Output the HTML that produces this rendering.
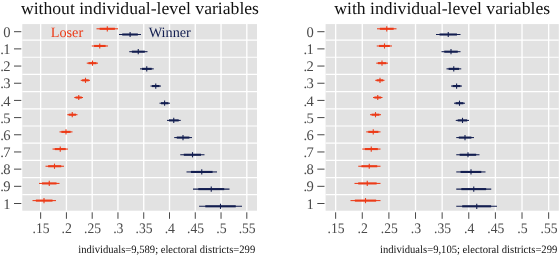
<!DOCTYPE html>
<html><head><meta charset="utf-8"><title>chart</title>
<style>html,body{margin:0;padding:0;background:#fff;overflow:hidden}svg{display:block;will-change:transform}text{font-family:"Liberation Serif",serif;text-rendering:geometricPrecision}</style></head><body>
<svg width="560" height="256" viewBox="0 0 560 256">
<rect x="0" y="0" width="560" height="256" fill="#ffffff"/>
<rect x="22.3" y="24.1" width="234.70" height="186.60" fill="#e2e2e2"/>
<line x1="40.65" x2="40.65" y1="24.1" y2="210.7" stroke="#fff" stroke-width="1.35"/>
<line x1="66.42" x2="66.42" y1="24.1" y2="210.7" stroke="#fff" stroke-width="1.35"/>
<line x1="92.19" x2="92.19" y1="24.1" y2="210.7" stroke="#fff" stroke-width="1.35"/>
<line x1="117.96" x2="117.96" y1="24.1" y2="210.7" stroke="#fff" stroke-width="1.35"/>
<line x1="143.73" x2="143.73" y1="24.1" y2="210.7" stroke="#fff" stroke-width="1.35"/>
<line x1="169.50" x2="169.50" y1="24.1" y2="210.7" stroke="#fff" stroke-width="1.35"/>
<line x1="195.27" x2="195.27" y1="24.1" y2="210.7" stroke="#fff" stroke-width="1.35"/>
<line x1="221.04" x2="221.04" y1="24.1" y2="210.7" stroke="#fff" stroke-width="1.35"/>
<line x1="246.81" x2="246.81" y1="24.1" y2="210.7" stroke="#fff" stroke-width="1.35"/>
<line x1="22.3" x2="257.0" y1="40.09" y2="40.09" stroke="#fff" stroke-width="1.2"/>
<line x1="22.3" x2="257.0" y1="57.27" y2="57.27" stroke="#fff" stroke-width="1.2"/>
<line x1="22.3" x2="257.0" y1="74.45" y2="74.45" stroke="#fff" stroke-width="1.2"/>
<line x1="22.3" x2="257.0" y1="91.63" y2="91.63" stroke="#fff" stroke-width="1.2"/>
<line x1="22.3" x2="257.0" y1="108.81" y2="108.81" stroke="#fff" stroke-width="1.2"/>
<line x1="22.3" x2="257.0" y1="125.99" y2="125.99" stroke="#fff" stroke-width="1.2"/>
<line x1="22.3" x2="257.0" y1="143.17" y2="143.17" stroke="#fff" stroke-width="1.2"/>
<line x1="22.3" x2="257.0" y1="160.35" y2="160.35" stroke="#fff" stroke-width="1.2"/>
<line x1="22.3" x2="257.0" y1="177.53" y2="177.53" stroke="#fff" stroke-width="1.2"/>
<line x1="22.3" x2="257.0" y1="194.71" y2="194.71" stroke="#fff" stroke-width="1.2"/>
<line x1="14.0" x2="21.3" y1="31.70" y2="31.70" stroke="#484848" stroke-width="1"/>
<text x="10.60" y="36.80" font-size="14.6" fill="#4a4a4a" text-anchor="end">0</text>
<line x1="14.0" x2="21.3" y1="48.88" y2="48.88" stroke="#484848" stroke-width="1"/>
<text x="10.60" y="53.98" font-size="14.6" fill="#4a4a4a" text-anchor="end">1</text>
<text x="0.20" y="53.98" font-size="14.6" fill="#4a4a4a">.</text>
<line x1="14.0" x2="21.3" y1="66.06" y2="66.06" stroke="#484848" stroke-width="1"/>
<text x="10.60" y="71.16" font-size="14.6" fill="#4a4a4a" text-anchor="end">2</text>
<text x="0.20" y="71.16" font-size="14.6" fill="#4a4a4a">.</text>
<line x1="14.0" x2="21.3" y1="83.24" y2="83.24" stroke="#484848" stroke-width="1"/>
<text x="10.60" y="88.34" font-size="14.6" fill="#4a4a4a" text-anchor="end">3</text>
<text x="0.20" y="88.34" font-size="14.6" fill="#4a4a4a">.</text>
<line x1="14.0" x2="21.3" y1="100.42" y2="100.42" stroke="#484848" stroke-width="1"/>
<text x="10.60" y="105.52" font-size="14.6" fill="#4a4a4a" text-anchor="end">4</text>
<text x="0.20" y="105.52" font-size="14.6" fill="#4a4a4a">.</text>
<line x1="14.0" x2="21.3" y1="117.60" y2="117.60" stroke="#484848" stroke-width="1"/>
<text x="10.60" y="122.70" font-size="14.6" fill="#4a4a4a" text-anchor="end">5</text>
<text x="0.20" y="122.70" font-size="14.6" fill="#4a4a4a">.</text>
<line x1="14.0" x2="21.3" y1="134.78" y2="134.78" stroke="#484848" stroke-width="1"/>
<text x="10.60" y="139.88" font-size="14.6" fill="#4a4a4a" text-anchor="end">6</text>
<text x="0.20" y="139.88" font-size="14.6" fill="#4a4a4a">.</text>
<line x1="14.0" x2="21.3" y1="151.96" y2="151.96" stroke="#484848" stroke-width="1"/>
<text x="10.60" y="157.06" font-size="14.6" fill="#4a4a4a" text-anchor="end">7</text>
<text x="0.20" y="157.06" font-size="14.6" fill="#4a4a4a">.</text>
<line x1="14.0" x2="21.3" y1="169.14" y2="169.14" stroke="#484848" stroke-width="1"/>
<text x="10.60" y="174.24" font-size="14.6" fill="#4a4a4a" text-anchor="end">8</text>
<text x="0.20" y="174.24" font-size="14.6" fill="#4a4a4a">.</text>
<line x1="14.0" x2="21.3" y1="186.32" y2="186.32" stroke="#484848" stroke-width="1"/>
<text x="10.60" y="191.42" font-size="14.6" fill="#4a4a4a" text-anchor="end">9</text>
<text x="0.20" y="191.42" font-size="14.6" fill="#4a4a4a">.</text>
<line x1="14.0" x2="21.3" y1="203.50" y2="203.50" stroke="#484848" stroke-width="1"/>
<text x="10.60" y="208.60" font-size="14.6" fill="#4a4a4a" text-anchor="end">1</text>
<line x1="40.65" x2="40.65" y1="212.3" y2="218.8" stroke="#484848" stroke-width="1"/>
<text x="32.50" y="233.0" font-size="14.6" fill="#4a4a4a" textLength="17.0" lengthAdjust="spacingAndGlyphs">.15</text>
<line x1="66.42" x2="66.42" y1="212.3" y2="218.8" stroke="#484848" stroke-width="1"/>
<text x="61.59" y="233.0" font-size="14.6" fill="#4a4a4a" textLength="10.35" lengthAdjust="spacingAndGlyphs">.2</text>
<line x1="92.19" x2="92.19" y1="212.3" y2="218.8" stroke="#484848" stroke-width="1"/>
<text x="84.04" y="233.0" font-size="14.6" fill="#4a4a4a" textLength="17.0" lengthAdjust="spacingAndGlyphs">.25</text>
<line x1="117.96" x2="117.96" y1="212.3" y2="218.8" stroke="#484848" stroke-width="1"/>
<text x="113.14" y="233.0" font-size="14.6" fill="#4a4a4a" textLength="10.35" lengthAdjust="spacingAndGlyphs">.3</text>
<line x1="143.73" x2="143.73" y1="212.3" y2="218.8" stroke="#484848" stroke-width="1"/>
<text x="135.58" y="233.0" font-size="14.6" fill="#4a4a4a" textLength="17.0" lengthAdjust="spacingAndGlyphs">.35</text>
<line x1="169.50" x2="169.50" y1="212.3" y2="218.8" stroke="#484848" stroke-width="1"/>
<text x="164.67" y="233.0" font-size="14.6" fill="#4a4a4a" textLength="10.35" lengthAdjust="spacingAndGlyphs">.4</text>
<line x1="195.27" x2="195.27" y1="212.3" y2="218.8" stroke="#484848" stroke-width="1"/>
<text x="187.12" y="233.0" font-size="14.6" fill="#4a4a4a" textLength="17.0" lengthAdjust="spacingAndGlyphs">.45</text>
<line x1="221.04" x2="221.04" y1="212.3" y2="218.8" stroke="#484848" stroke-width="1"/>
<text x="216.21" y="233.0" font-size="14.6" fill="#4a4a4a" textLength="10.35" lengthAdjust="spacingAndGlyphs">.5</text>
<line x1="246.81" x2="246.81" y1="212.3" y2="218.8" stroke="#484848" stroke-width="1"/>
<text x="238.66" y="233.0" font-size="14.6" fill="#4a4a4a" textLength="17.0" lengthAdjust="spacingAndGlyphs">.55</text>
<line x1="96.50" x2="118.00" y1="28.80" y2="28.80" stroke="#ec3b18" stroke-width="1.05"/>
<line x1="99.63" x2="114.90" y1="28.80" y2="28.80" stroke="#ec3b18" stroke-width="2.1"/>
<line x1="107.30" x2="107.30" y1="26.20" y2="31.40" stroke="#ec3b18" stroke-width="1.1"/>
<line x1="119.00" x2="141.00" y1="34.50" y2="34.50" stroke="#131e50" stroke-width="1.05"/>
<line x1="122.22" x2="137.84" y1="34.50" y2="34.50" stroke="#131e50" stroke-width="2.1"/>
<line x1="130.10" x2="130.10" y1="31.90" y2="37.10" stroke="#131e50" stroke-width="1.1"/>
<line x1="91.75" x2="108.00" y1="45.98" y2="45.98" stroke="#ec3b18" stroke-width="1.05"/>
<line x1="94.07" x2="105.61" y1="45.98" y2="45.98" stroke="#ec3b18" stroke-width="2.1"/>
<line x1="99.75" x2="99.75" y1="43.38" y2="48.58" stroke="#ec3b18" stroke-width="1.1"/>
<line x1="129.25" x2="147.50" y1="51.68" y2="51.68" stroke="#131e50" stroke-width="1.05"/>
<line x1="131.86" x2="144.82" y1="51.68" y2="51.68" stroke="#131e50" stroke-width="2.1"/>
<line x1="138.25" x2="138.25" y1="49.08" y2="54.28" stroke="#131e50" stroke-width="1.1"/>
<line x1="86.75" x2="98.00" y1="63.16" y2="63.16" stroke="#ec3b18" stroke-width="1.05"/>
<line x1="88.42" x2="96.41" y1="63.16" y2="63.16" stroke="#ec3b18" stroke-width="2.1"/>
<line x1="92.50" x2="92.50" y1="60.56" y2="65.76" stroke="#ec3b18" stroke-width="1.1"/>
<line x1="140.00" x2="153.75" y1="68.86" y2="68.86" stroke="#131e50" stroke-width="1.05"/>
<line x1="141.96" x2="151.72" y1="68.86" y2="68.86" stroke="#131e50" stroke-width="2.1"/>
<line x1="146.75" x2="146.75" y1="66.26" y2="71.46" stroke="#131e50" stroke-width="1.1"/>
<line x1="80.75" x2="90.00" y1="80.34" y2="80.34" stroke="#ec3b18" stroke-width="1.05"/>
<line x1="82.13" x2="88.69" y1="80.34" y2="80.34" stroke="#ec3b18" stroke-width="2.1"/>
<line x1="85.50" x2="85.50" y1="77.74" y2="82.94" stroke="#ec3b18" stroke-width="1.1"/>
<line x1="150.50" x2="161.00" y1="86.04" y2="86.04" stroke="#131e50" stroke-width="1.05"/>
<line x1="152.02" x2="159.48" y1="86.04" y2="86.04" stroke="#131e50" stroke-width="2.1"/>
<line x1="155.75" x2="155.75" y1="83.44" y2="88.64" stroke="#131e50" stroke-width="1.1"/>
<line x1="74.25" x2="83.00" y1="97.52" y2="97.52" stroke="#ec3b18" stroke-width="1.05"/>
<line x1="75.56" x2="81.77" y1="97.52" y2="97.52" stroke="#ec3b18" stroke-width="2.1"/>
<line x1="78.75" x2="78.75" y1="94.92" y2="100.12" stroke="#ec3b18" stroke-width="1.1"/>
<line x1="159.50" x2="170.00" y1="103.22" y2="103.22" stroke="#131e50" stroke-width="1.05"/>
<line x1="160.98" x2="168.43" y1="103.22" y2="103.22" stroke="#131e50" stroke-width="2.1"/>
<line x1="164.60" x2="164.60" y1="100.62" y2="105.82" stroke="#131e50" stroke-width="1.1"/>
<line x1="67.25" x2="77.50" y1="114.70" y2="114.70" stroke="#ec3b18" stroke-width="1.05"/>
<line x1="68.70" x2="75.98" y1="114.70" y2="114.70" stroke="#ec3b18" stroke-width="2.1"/>
<line x1="72.25" x2="72.25" y1="112.10" y2="117.30" stroke="#ec3b18" stroke-width="1.1"/>
<line x1="167.00" x2="180.75" y1="120.40" y2="120.40" stroke="#131e50" stroke-width="1.05"/>
<line x1="168.96" x2="178.72" y1="120.40" y2="120.40" stroke="#131e50" stroke-width="2.1"/>
<line x1="173.75" x2="173.75" y1="117.80" y2="123.00" stroke="#131e50" stroke-width="1.1"/>
<line x1="59.50" x2="72.50" y1="131.88" y2="131.88" stroke="#ec3b18" stroke-width="1.05"/>
<line x1="61.38" x2="70.61" y1="131.88" y2="131.88" stroke="#ec3b18" stroke-width="2.1"/>
<line x1="66.00" x2="66.00" y1="129.28" y2="134.48" stroke="#ec3b18" stroke-width="1.1"/>
<line x1="174.20" x2="192.00" y1="137.58" y2="137.58" stroke="#131e50" stroke-width="1.05"/>
<line x1="176.75" x2="189.39" y1="137.58" y2="137.58" stroke="#131e50" stroke-width="2.1"/>
<line x1="183.00" x2="183.00" y1="134.98" y2="140.18" stroke="#131e50" stroke-width="1.1"/>
<line x1="52.50" x2="68.00" y1="149.06" y2="149.06" stroke="#ec3b18" stroke-width="1.05"/>
<line x1="54.75" x2="65.75" y1="149.06" y2="149.06" stroke="#ec3b18" stroke-width="2.1"/>
<line x1="60.25" x2="60.25" y1="146.46" y2="151.66" stroke="#ec3b18" stroke-width="1.1"/>
<line x1="180.25" x2="204.50" y1="154.76" y2="154.76" stroke="#131e50" stroke-width="1.05"/>
<line x1="183.80" x2="201.02" y1="154.76" y2="154.76" stroke="#131e50" stroke-width="2.1"/>
<line x1="192.50" x2="192.50" y1="152.16" y2="157.36" stroke="#131e50" stroke-width="1.1"/>
<line x1="45.50" x2="64.00" y1="166.24" y2="166.24" stroke="#ec3b18" stroke-width="1.05"/>
<line x1="48.11" x2="61.24" y1="166.24" y2="166.24" stroke="#ec3b18" stroke-width="2.1"/>
<line x1="54.50" x2="54.50" y1="163.64" y2="168.84" stroke="#ec3b18" stroke-width="1.1"/>
<line x1="186.50" x2="217.00" y1="171.94" y2="171.94" stroke="#131e50" stroke-width="1.05"/>
<line x1="190.92" x2="212.58" y1="171.94" y2="171.94" stroke="#131e50" stroke-width="2.1"/>
<line x1="201.75" x2="201.75" y1="169.34" y2="174.54" stroke="#131e50" stroke-width="1.1"/>
<line x1="39.00" x2="59.50" y1="183.42" y2="183.42" stroke="#ec3b18" stroke-width="1.05"/>
<line x1="41.97" x2="56.53" y1="183.42" y2="183.42" stroke="#ec3b18" stroke-width="2.1"/>
<line x1="49.25" x2="49.25" y1="180.82" y2="186.02" stroke="#ec3b18" stroke-width="1.1"/>
<line x1="193.00" x2="229.50" y1="189.12" y2="189.12" stroke="#131e50" stroke-width="1.05"/>
<line x1="198.29" x2="224.21" y1="189.12" y2="189.12" stroke="#131e50" stroke-width="2.1"/>
<line x1="211.25" x2="211.25" y1="186.52" y2="191.72" stroke="#131e50" stroke-width="1.1"/>
<line x1="32.50" x2="56.00" y1="200.60" y2="200.60" stroke="#ec3b18" stroke-width="1.05"/>
<line x1="35.84" x2="52.52" y1="200.60" y2="200.60" stroke="#ec3b18" stroke-width="2.1"/>
<line x1="44.00" x2="44.00" y1="198.00" y2="203.20" stroke="#ec3b18" stroke-width="1.1"/>
<line x1="199.10" x2="242.00" y1="206.30" y2="206.30" stroke="#131e50" stroke-width="1.05"/>
<line x1="205.31" x2="235.76" y1="206.30" y2="206.30" stroke="#131e50" stroke-width="2.1"/>
<line x1="220.50" x2="220.50" y1="203.70" y2="208.90" stroke="#131e50" stroke-width="1.1"/>
<text x="20.9" y="14.4" font-size="17.3" fill="#111" textLength="238.1" lengthAdjust="spacingAndGlyphs">without individual-level variables</text>
<text x="78.3" y="252.7" font-size="11.2" fill="#111" textLength="176.9" lengthAdjust="spacingAndGlyphs">individuals=9,589; electoral districts=299</text>
<text x="50.7" y="37.0" font-size="14.25" fill="#ec3b18">Loser</text>
<text x="148.7" y="37.0" font-size="14.25" fill="#131e50">Winner</text>
<rect x="325.6" y="24.1" width="233.20" height="186.60" fill="#e2e2e2"/>
<line x1="335.65" x2="335.65" y1="24.1" y2="210.7" stroke="#fff" stroke-width="1.35"/>
<line x1="362.27" x2="362.27" y1="24.1" y2="210.7" stroke="#fff" stroke-width="1.35"/>
<line x1="388.90" x2="388.90" y1="24.1" y2="210.7" stroke="#fff" stroke-width="1.35"/>
<line x1="415.52" x2="415.52" y1="24.1" y2="210.7" stroke="#fff" stroke-width="1.35"/>
<line x1="442.15" x2="442.15" y1="24.1" y2="210.7" stroke="#fff" stroke-width="1.35"/>
<line x1="468.77" x2="468.77" y1="24.1" y2="210.7" stroke="#fff" stroke-width="1.35"/>
<line x1="495.40" x2="495.40" y1="24.1" y2="210.7" stroke="#fff" stroke-width="1.35"/>
<line x1="522.02" x2="522.02" y1="24.1" y2="210.7" stroke="#fff" stroke-width="1.35"/>
<line x1="548.65" x2="548.65" y1="24.1" y2="210.7" stroke="#fff" stroke-width="1.35"/>
<line x1="325.6" x2="558.8" y1="40.09" y2="40.09" stroke="#fff" stroke-width="1.2"/>
<line x1="325.6" x2="558.8" y1="57.27" y2="57.27" stroke="#fff" stroke-width="1.2"/>
<line x1="325.6" x2="558.8" y1="74.45" y2="74.45" stroke="#fff" stroke-width="1.2"/>
<line x1="325.6" x2="558.8" y1="91.63" y2="91.63" stroke="#fff" stroke-width="1.2"/>
<line x1="325.6" x2="558.8" y1="108.81" y2="108.81" stroke="#fff" stroke-width="1.2"/>
<line x1="325.6" x2="558.8" y1="125.99" y2="125.99" stroke="#fff" stroke-width="1.2"/>
<line x1="325.6" x2="558.8" y1="143.17" y2="143.17" stroke="#fff" stroke-width="1.2"/>
<line x1="325.6" x2="558.8" y1="160.35" y2="160.35" stroke="#fff" stroke-width="1.2"/>
<line x1="325.6" x2="558.8" y1="177.53" y2="177.53" stroke="#fff" stroke-width="1.2"/>
<line x1="325.6" x2="558.8" y1="194.71" y2="194.71" stroke="#fff" stroke-width="1.2"/>
<line x1="317.3" x2="324.5" y1="31.70" y2="31.70" stroke="#484848" stroke-width="1"/>
<text x="313.90" y="36.80" font-size="14.6" fill="#4a4a4a" text-anchor="end">0</text>
<line x1="317.3" x2="324.5" y1="48.88" y2="48.88" stroke="#484848" stroke-width="1"/>
<text x="313.90" y="53.98" font-size="14.6" fill="#4a4a4a" text-anchor="end">1</text>
<text x="303.50" y="53.98" font-size="14.6" fill="#4a4a4a">.</text>
<line x1="317.3" x2="324.5" y1="66.06" y2="66.06" stroke="#484848" stroke-width="1"/>
<text x="313.90" y="71.16" font-size="14.6" fill="#4a4a4a" text-anchor="end">2</text>
<text x="303.50" y="71.16" font-size="14.6" fill="#4a4a4a">.</text>
<line x1="317.3" x2="324.5" y1="83.24" y2="83.24" stroke="#484848" stroke-width="1"/>
<text x="313.90" y="88.34" font-size="14.6" fill="#4a4a4a" text-anchor="end">3</text>
<text x="303.50" y="88.34" font-size="14.6" fill="#4a4a4a">.</text>
<line x1="317.3" x2="324.5" y1="100.42" y2="100.42" stroke="#484848" stroke-width="1"/>
<text x="313.90" y="105.52" font-size="14.6" fill="#4a4a4a" text-anchor="end">4</text>
<text x="303.50" y="105.52" font-size="14.6" fill="#4a4a4a">.</text>
<line x1="317.3" x2="324.5" y1="117.60" y2="117.60" stroke="#484848" stroke-width="1"/>
<text x="313.90" y="122.70" font-size="14.6" fill="#4a4a4a" text-anchor="end">5</text>
<text x="303.50" y="122.70" font-size="14.6" fill="#4a4a4a">.</text>
<line x1="317.3" x2="324.5" y1="134.78" y2="134.78" stroke="#484848" stroke-width="1"/>
<text x="313.90" y="139.88" font-size="14.6" fill="#4a4a4a" text-anchor="end">6</text>
<text x="303.50" y="139.88" font-size="14.6" fill="#4a4a4a">.</text>
<line x1="317.3" x2="324.5" y1="151.96" y2="151.96" stroke="#484848" stroke-width="1"/>
<text x="313.90" y="157.06" font-size="14.6" fill="#4a4a4a" text-anchor="end">7</text>
<text x="303.50" y="157.06" font-size="14.6" fill="#4a4a4a">.</text>
<line x1="317.3" x2="324.5" y1="169.14" y2="169.14" stroke="#484848" stroke-width="1"/>
<text x="313.90" y="174.24" font-size="14.6" fill="#4a4a4a" text-anchor="end">8</text>
<text x="303.50" y="174.24" font-size="14.6" fill="#4a4a4a">.</text>
<line x1="317.3" x2="324.5" y1="186.32" y2="186.32" stroke="#484848" stroke-width="1"/>
<text x="313.90" y="191.42" font-size="14.6" fill="#4a4a4a" text-anchor="end">9</text>
<text x="303.50" y="191.42" font-size="14.6" fill="#4a4a4a">.</text>
<line x1="317.3" x2="324.5" y1="203.50" y2="203.50" stroke="#484848" stroke-width="1"/>
<text x="313.90" y="208.60" font-size="14.6" fill="#4a4a4a" text-anchor="end">1</text>
<line x1="335.65" x2="335.65" y1="212.3" y2="218.8" stroke="#484848" stroke-width="1"/>
<text x="327.50" y="233.0" font-size="14.6" fill="#4a4a4a" textLength="17.0" lengthAdjust="spacingAndGlyphs">.15</text>
<line x1="362.27" x2="362.27" y1="212.3" y2="218.8" stroke="#484848" stroke-width="1"/>
<text x="357.45" y="233.0" font-size="14.6" fill="#4a4a4a" textLength="10.35" lengthAdjust="spacingAndGlyphs">.2</text>
<line x1="388.90" x2="388.90" y1="212.3" y2="218.8" stroke="#484848" stroke-width="1"/>
<text x="380.75" y="233.0" font-size="14.6" fill="#4a4a4a" textLength="17.0" lengthAdjust="spacingAndGlyphs">.25</text>
<line x1="415.52" x2="415.52" y1="212.3" y2="218.8" stroke="#484848" stroke-width="1"/>
<text x="410.70" y="233.0" font-size="14.6" fill="#4a4a4a" textLength="10.35" lengthAdjust="spacingAndGlyphs">.3</text>
<line x1="442.15" x2="442.15" y1="212.3" y2="218.8" stroke="#484848" stroke-width="1"/>
<text x="434.00" y="233.0" font-size="14.6" fill="#4a4a4a" textLength="17.0" lengthAdjust="spacingAndGlyphs">.35</text>
<line x1="468.77" x2="468.77" y1="212.3" y2="218.8" stroke="#484848" stroke-width="1"/>
<text x="463.95" y="233.0" font-size="14.6" fill="#4a4a4a" textLength="10.35" lengthAdjust="spacingAndGlyphs">.4</text>
<line x1="495.40" x2="495.40" y1="212.3" y2="218.8" stroke="#484848" stroke-width="1"/>
<text x="487.25" y="233.0" font-size="14.6" fill="#4a4a4a" textLength="17.0" lengthAdjust="spacingAndGlyphs">.45</text>
<line x1="522.02" x2="522.02" y1="212.3" y2="218.8" stroke="#484848" stroke-width="1"/>
<text x="517.20" y="233.0" font-size="14.6" fill="#4a4a4a" textLength="10.35" lengthAdjust="spacingAndGlyphs">.5</text>
<line x1="548.65" x2="548.65" y1="212.3" y2="218.8" stroke="#484848" stroke-width="1"/>
<text x="540.50" y="233.0" font-size="14.6" fill="#4a4a4a" textLength="17.0" lengthAdjust="spacingAndGlyphs">.55</text>
<line x1="377.00" x2="396.50" y1="28.80" y2="28.80" stroke="#ec3b18" stroke-width="1.05"/>
<line x1="379.83" x2="393.67" y1="28.80" y2="28.80" stroke="#ec3b18" stroke-width="2.1"/>
<line x1="386.75" x2="386.75" y1="26.20" y2="31.40" stroke="#ec3b18" stroke-width="1.1"/>
<line x1="436.00" x2="460.50" y1="34.50" y2="34.50" stroke="#131e50" stroke-width="1.05"/>
<line x1="439.55" x2="456.95" y1="34.50" y2="34.50" stroke="#131e50" stroke-width="2.1"/>
<line x1="448.25" x2="448.25" y1="31.90" y2="37.10" stroke="#131e50" stroke-width="1.1"/>
<line x1="376.75" x2="392.00" y1="45.98" y2="45.98" stroke="#ec3b18" stroke-width="1.05"/>
<line x1="379.00" x2="389.82" y1="45.98" y2="45.98" stroke="#ec3b18" stroke-width="2.1"/>
<line x1="384.50" x2="384.50" y1="43.38" y2="48.58" stroke="#ec3b18" stroke-width="1.1"/>
<line x1="441.50" x2="460.50" y1="51.68" y2="51.68" stroke="#131e50" stroke-width="1.05"/>
<line x1="444.25" x2="457.75" y1="51.68" y2="51.68" stroke="#131e50" stroke-width="2.1"/>
<line x1="451.00" x2="451.00" y1="49.08" y2="54.28" stroke="#131e50" stroke-width="1.1"/>
<line x1="376.25" x2="388.00" y1="63.16" y2="63.16" stroke="#ec3b18" stroke-width="1.05"/>
<line x1="377.92" x2="386.26" y1="63.16" y2="63.16" stroke="#ec3b18" stroke-width="2.1"/>
<line x1="382.00" x2="382.00" y1="60.56" y2="65.76" stroke="#ec3b18" stroke-width="1.1"/>
<line x1="446.50" x2="461.25" y1="68.86" y2="68.86" stroke="#131e50" stroke-width="1.05"/>
<line x1="448.60" x2="459.07" y1="68.86" y2="68.86" stroke="#131e50" stroke-width="2.1"/>
<line x1="453.75" x2="453.75" y1="66.26" y2="71.46" stroke="#131e50" stroke-width="1.1"/>
<line x1="375.25" x2="384.50" y1="80.34" y2="80.34" stroke="#ec3b18" stroke-width="1.05"/>
<line x1="376.63" x2="383.19" y1="80.34" y2="80.34" stroke="#ec3b18" stroke-width="2.1"/>
<line x1="380.00" x2="380.00" y1="77.74" y2="82.94" stroke="#ec3b18" stroke-width="1.1"/>
<line x1="451.00" x2="462.00" y1="86.04" y2="86.04" stroke="#131e50" stroke-width="1.05"/>
<line x1="452.62" x2="460.43" y1="86.04" y2="86.04" stroke="#131e50" stroke-width="2.1"/>
<line x1="456.60" x2="456.60" y1="83.44" y2="88.64" stroke="#131e50" stroke-width="1.1"/>
<line x1="373.00" x2="382.50" y1="97.52" y2="97.52" stroke="#ec3b18" stroke-width="1.05"/>
<line x1="374.38" x2="381.12" y1="97.52" y2="97.52" stroke="#ec3b18" stroke-width="2.1"/>
<line x1="377.75" x2="377.75" y1="94.92" y2="100.12" stroke="#ec3b18" stroke-width="1.1"/>
<line x1="454.00" x2="465.00" y1="103.22" y2="103.22" stroke="#131e50" stroke-width="1.05"/>
<line x1="455.60" x2="463.40" y1="103.22" y2="103.22" stroke="#131e50" stroke-width="2.1"/>
<line x1="459.50" x2="459.50" y1="100.62" y2="105.82" stroke="#131e50" stroke-width="1.1"/>
<line x1="370.00" x2="381.00" y1="114.70" y2="114.70" stroke="#ec3b18" stroke-width="1.05"/>
<line x1="371.60" x2="379.40" y1="114.70" y2="114.70" stroke="#ec3b18" stroke-width="2.1"/>
<line x1="375.50" x2="375.50" y1="112.10" y2="117.30" stroke="#ec3b18" stroke-width="1.1"/>
<line x1="455.75" x2="469.00" y1="120.40" y2="120.40" stroke="#131e50" stroke-width="1.05"/>
<line x1="457.71" x2="467.12" y1="120.40" y2="120.40" stroke="#131e50" stroke-width="2.1"/>
<line x1="462.50" x2="462.50" y1="117.80" y2="123.00" stroke="#131e50" stroke-width="1.1"/>
<line x1="366.25" x2="380.50" y1="131.88" y2="131.88" stroke="#ec3b18" stroke-width="1.05"/>
<line x1="368.28" x2="378.40" y1="131.88" y2="131.88" stroke="#ec3b18" stroke-width="2.1"/>
<line x1="373.25" x2="373.25" y1="129.28" y2="134.48" stroke="#ec3b18" stroke-width="1.1"/>
<line x1="456.25" x2="474.00" y1="137.58" y2="137.58" stroke="#131e50" stroke-width="1.05"/>
<line x1="458.79" x2="471.39" y1="137.58" y2="137.58" stroke="#131e50" stroke-width="2.1"/>
<line x1="465.00" x2="465.00" y1="134.98" y2="140.18" stroke="#131e50" stroke-width="1.1"/>
<line x1="362.25" x2="380.50" y1="149.06" y2="149.06" stroke="#ec3b18" stroke-width="1.05"/>
<line x1="364.86" x2="377.82" y1="149.06" y2="149.06" stroke="#ec3b18" stroke-width="2.1"/>
<line x1="371.25" x2="371.25" y1="146.46" y2="151.66" stroke="#ec3b18" stroke-width="1.1"/>
<line x1="456.25" x2="479.50" y1="154.76" y2="154.76" stroke="#131e50" stroke-width="1.05"/>
<line x1="459.66" x2="476.17" y1="154.76" y2="154.76" stroke="#131e50" stroke-width="2.1"/>
<line x1="468.00" x2="468.00" y1="152.16" y2="157.36" stroke="#131e50" stroke-width="1.1"/>
<line x1="358.25" x2="380.50" y1="166.24" y2="166.24" stroke="#ec3b18" stroke-width="1.05"/>
<line x1="361.44" x2="377.24" y1="166.24" y2="166.24" stroke="#ec3b18" stroke-width="2.1"/>
<line x1="369.25" x2="369.25" y1="163.64" y2="168.84" stroke="#ec3b18" stroke-width="1.1"/>
<line x1="456.25" x2="485.50" y1="171.94" y2="171.94" stroke="#131e50" stroke-width="1.05"/>
<line x1="460.53" x2="481.30" y1="171.94" y2="171.94" stroke="#131e50" stroke-width="2.1"/>
<line x1="471.00" x2="471.00" y1="169.34" y2="174.54" stroke="#131e50" stroke-width="1.1"/>
<line x1="354.50" x2="380.50" y1="183.42" y2="183.42" stroke="#ec3b18" stroke-width="1.05"/>
<line x1="358.20" x2="376.66" y1="183.42" y2="183.42" stroke="#ec3b18" stroke-width="2.1"/>
<line x1="367.25" x2="367.25" y1="180.82" y2="186.02" stroke="#ec3b18" stroke-width="1.1"/>
<line x1="456.25" x2="491.25" y1="189.12" y2="189.12" stroke="#131e50" stroke-width="1.05"/>
<line x1="461.32" x2="486.18" y1="189.12" y2="189.12" stroke="#131e50" stroke-width="2.1"/>
<line x1="473.75" x2="473.75" y1="186.52" y2="191.72" stroke="#131e50" stroke-width="1.1"/>
<line x1="350.50" x2="380.50" y1="200.60" y2="200.60" stroke="#ec3b18" stroke-width="1.05"/>
<line x1="354.85" x2="376.15" y1="200.60" y2="200.60" stroke="#ec3b18" stroke-width="2.1"/>
<line x1="365.50" x2="365.50" y1="198.00" y2="203.20" stroke="#ec3b18" stroke-width="1.1"/>
<line x1="456.25" x2="497.00" y1="206.30" y2="206.30" stroke="#131e50" stroke-width="1.05"/>
<line x1="462.19" x2="491.13" y1="206.30" y2="206.30" stroke="#131e50" stroke-width="2.1"/>
<line x1="476.75" x2="476.75" y1="203.70" y2="208.90" stroke="#131e50" stroke-width="1.1"/>
<text x="334.3" y="14.4" font-size="17.3" fill="#111" textLength="215.8" lengthAdjust="spacingAndGlyphs">with individual-level variables</text>
<text x="380.0" y="252.7" font-size="11.2" fill="#111" textLength="177.3" lengthAdjust="spacingAndGlyphs">individuals=9,105; electoral districts=299</text>
</svg></body></html>
